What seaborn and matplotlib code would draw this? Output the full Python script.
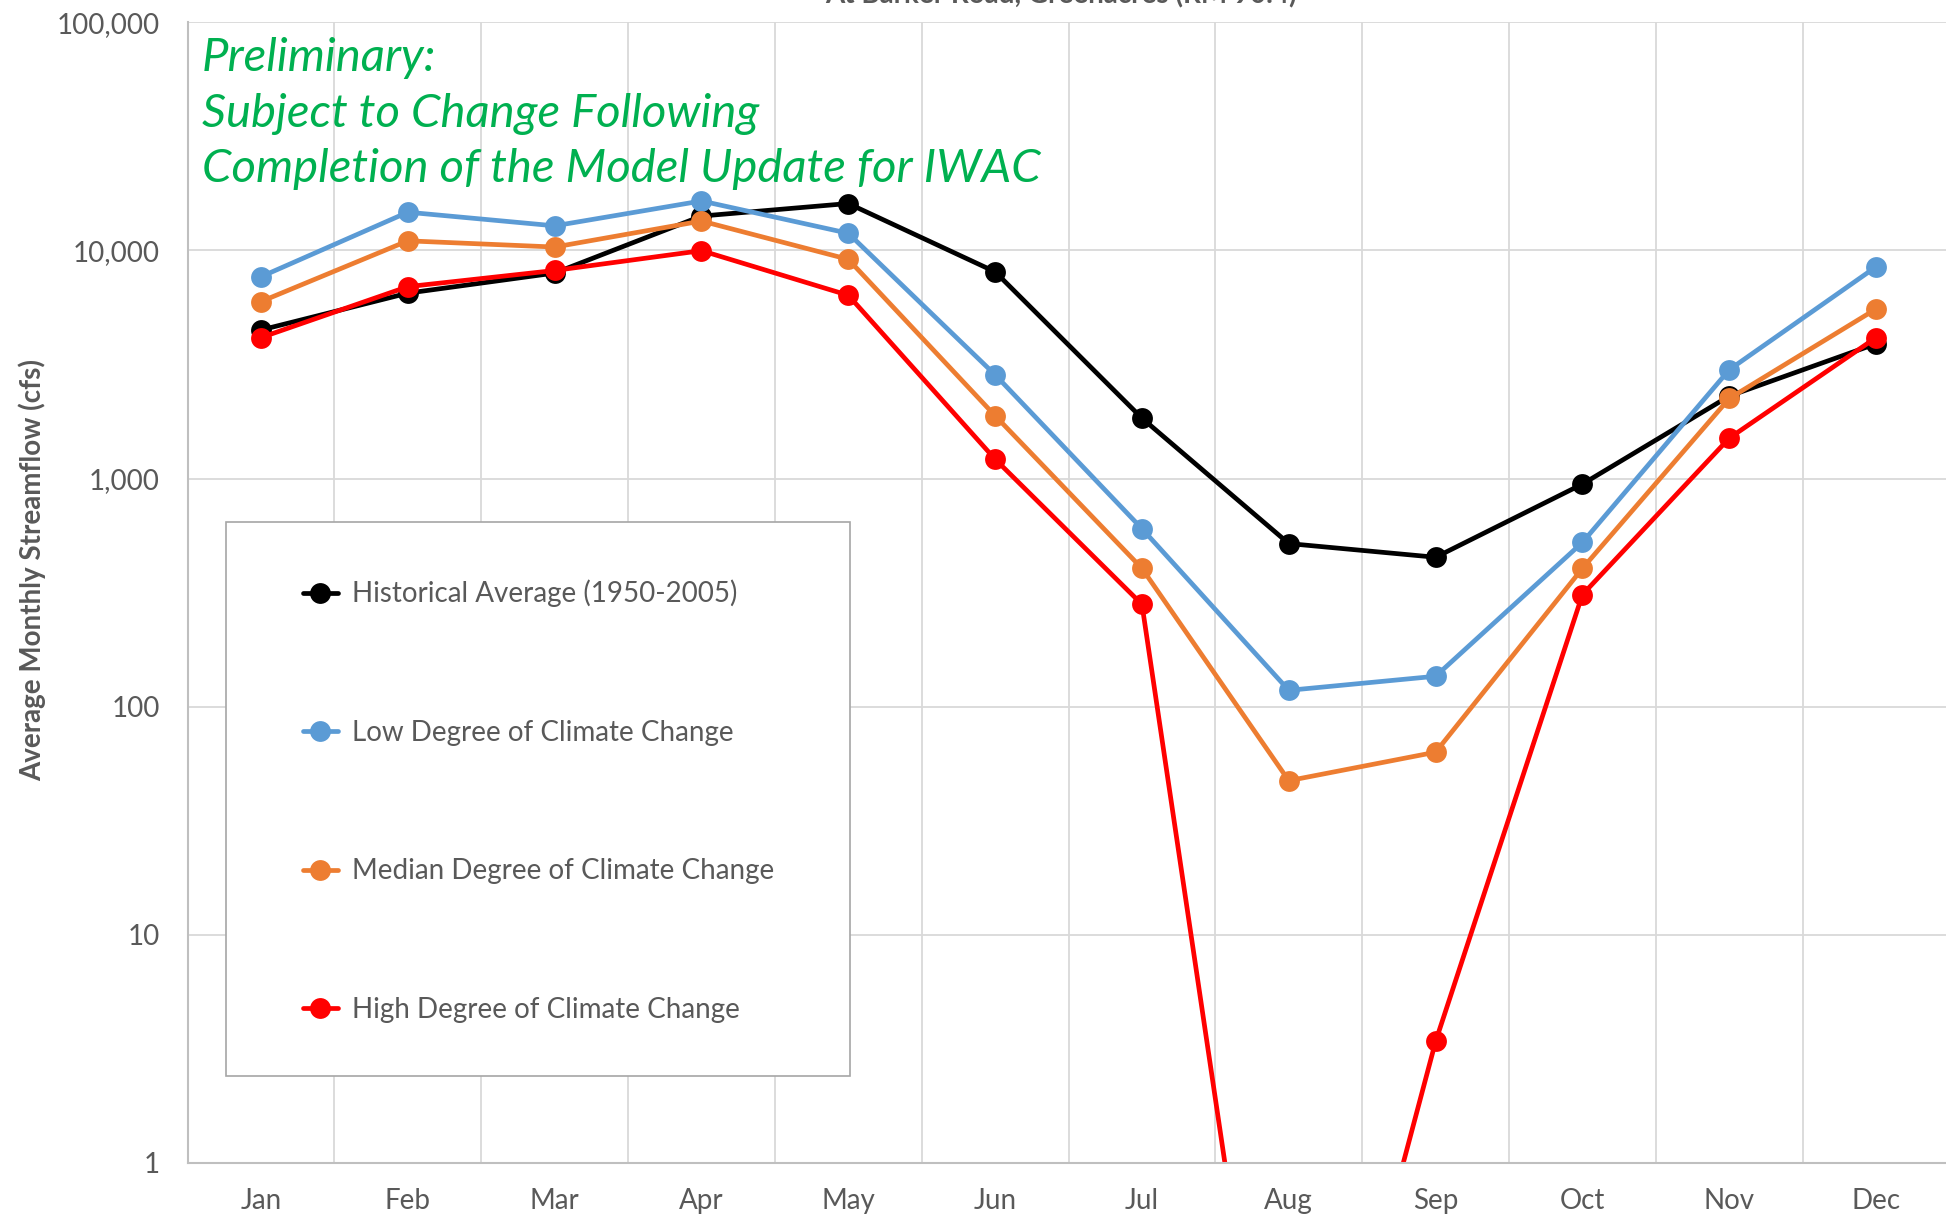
import numpy as np
import pandas as pd
import matplotlib
matplotlib.use("Agg")
import matplotlib.pyplot as plt
import matplotlib.ticker as mticker
from matplotlib.patches import Rectangle
import seaborn as sns

months = ["Jan", "Feb", "Mar", "Apr", "May", "Jun", "Jul", "Aug", "Sep", "Oct", "Nov", "Dec"]

historical = [4480, 6500, 7960, 14150, 16060, 8060, 1840, 519, 452, 946, 2300, 3900]
low_cc = [7670, 14710, 12820, 16480, 11890, 2850, 603, 118, 136, 525, 3000, 8480]
median_cc = [5970, 11020, 10350, 13460, 9140, 1885, 404, 47.4, 63.2, 404, 2245, 5540]
high_cc = [4150, 6940, 8170, 9980, 6360, 1216, 281, 0.013, 3.41, 310, 1504, 4150]

series_names = [
    "Historical Average (1950-2005)",
    "Low Degree of Climate Change",
    "Median Degree of Climate Change",
    "High Degree of Climate Change",
]
colors = ["#000000", "#5B9BD5", "#ED7D31", "#FF0000"]

df = pd.DataFrame({
    "month": months * 4,
    "flow": historical + low_cc + median_cc + high_cc,
    "series": [s for s in series_names for _ in months],
})

sns.set_style("white")
plt.rcParams["font.family"] = ["Lato", "DejaVu Sans"]
grey = "#595959"

fig = plt.figure(figsize=(19.46, 12.26), dpi=100)
ax = fig.add_axes([0.0964, 0.0514, 0.9054, 0.9304])

sns.lineplot(data=df, x="month", y="flow", hue="series", palette=colors,
             marker="o", markersize=15, markeredgewidth=0, linewidth=3.4,
             sort=False, ax=ax, legend=True)

ax.set_yscale("log")
ax.set_ylim(1, 100000)
ax.set_xlim(-0.5, 11.5)
ax.yaxis.set_major_locator(mticker.LogLocator(base=10, numticks=10))
ax.yaxis.set_minor_locator(mticker.NullLocator())
ax.yaxis.set_major_formatter(mticker.FuncFormatter(lambda v, p: f"{v:,.0f}"))
ax.set_xticks(np.arange(-0.5, 12, 1), minor=True)

ax.grid(True, which="major", axis="y", color="#D9D9D9", linewidth=1.3)
ax.grid(True, which="minor", axis="x", color="#D9D9D9", linewidth=1.3)
ax.tick_params(axis="both", which="both", length=0, labelsize=20, labelcolor=grey)
ax.tick_params(axis="y", pad=20)
ax.tick_params(axis="x", pad=18)

for side in ["top", "right"]:
    ax.spines[side].set_visible(False)
for side in ["left", "bottom"]:
    ax.spines[side].set_color("#BFBFBF")
    ax.spines[side].set_linewidth(1.5)

ax.set_xlabel("")
ax.set_ylabel("Average Monthly Streamflow (cfs)", fontsize=20, fontweight="bold", color=grey)
ax.yaxis.set_label_coords(-0.08, 0.52)

# legend box
box = Rectangle((226 / 1946, 1 - 1076 / 1226), (850 - 226) / 1946, (1076 - 522) / 1226,
                transform=fig.transFigure, facecolor="white", edgecolor="#A6A6A6",
                linewidth=1.2, zorder=4, clip_on=False)
ax.add_patch(box)
leg = ax.legend(loc="upper left", bbox_to_anchor=(289 / 1946, 1 - 566 / 1226),
                bbox_transform=fig.transFigure, frameon=False, fontsize=20,
                labelspacing=4.05, handlelength=1.26, handletextpad=0.5,
                borderpad=0, labelcolor=grey)
leg.set_zorder(6)

ax.text(0.008, 0.987, "Preliminary:\nSubject to Change Following\nCompletion of the Model Update for IWAC",
        transform=ax.transAxes, ha="left", va="top", fontsize=34, style="italic",
        color="#00B050", linespacing=1.4)

fig.text(0.545, 1.004, "At Barker Road, Greenacres (RM 90.4)", ha="center", va="center",
         fontsize=20, fontweight="bold", color=grey)

fig.savefig("out.png", dpi=100)
